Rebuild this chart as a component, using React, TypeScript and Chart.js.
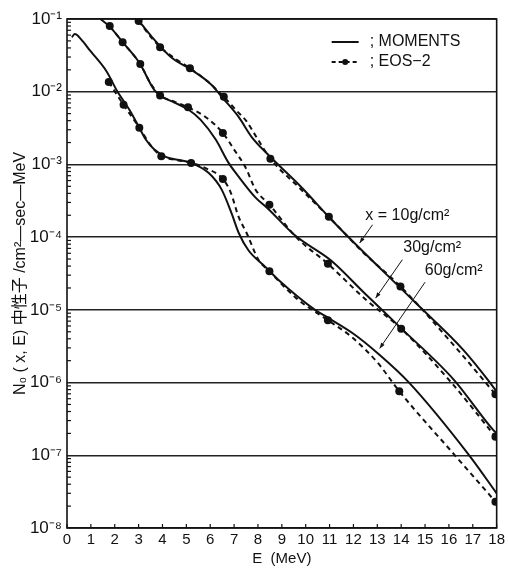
import React, { useEffect, useRef } from "react";
import { Chart, registerables } from "chart.js";

Chart.register(...registerables);

const FONT = "'Liberation Sans', Arial, 'Noto Sans CJK JP', sans-serif";

// ---- axes ----
const E_MIN = 0;
const E_MAX = 18;
const N_MIN = 1e-8;
const N_MAX = 1e-1;
const MINOR_MULTIPLIERS = [2, 3, 4, 5, 6, 7, 8, 9];
const X_TITLE = "E  (MeV)";
const Y_TITLE = "N₀ ( x, E) 中性子 /cm²—sec—MeV";

// ---- legend ----
const LEGEND_MOMENTS = "; MOMENTS";
const LEGEND_EOS = "; EOS−2";

// ---- MOMENTS (solid) ----
const mom10E = [2.95, 3.57, 4.4, 5.11, 6.07, 6.48, 7.19, 7.73, 8.44, 9.81, 11.22, 14.55, 16.61, 17.72, 18];
const mom10N = [1.0e-1, 5.6e-2, 2.9e-2, 2.1e-2, 1.23e-2, 8.5e-3, 4.5e-3, 2.4e-3, 1.35e-3, 4.9e-4, 1.55e-4, 1.3e-5, 2.8e-6, 1.0e-6, 7.5e-7];

const mom30E = [1.4, 1.8, 2.33, 3.03, 3.66, 4.0, 4.5, 5.11, 5.6, 6.23, 6.77, 7.19, 7.9, 8.4, 9.56, 11.05, 12.5, 13.97, 16.2, 17.87, 18];
const mom30N = [1.0e-1, 7.8e-2, 4.8e-2, 2.5e-2, 1.05e-2, 8.5e-3, 7.1e-3, 5.6e-3, 4.1e-3, 2.2e-3, 1.05e-3, 6.8e-4, 3.5e-4, 2.5e-4, 1.05e-4, 4.8e-5, 1.65e-5, 5.7e-6, 1.1e-6, 2.2e-7, 2.0e-7];

const mom60E = [0.2, 0.33, 0.6, 0.96, 1.66, 2.08, 2.62, 3.03, 3.3, 3.66, 4.16, 4.7, 5.2, 5.94, 6.48, 6.9, 7.19, 7.6, 8.31, 8.85, 10.39, 10.93, 12.0, 13.1, 14.33, 16.85, 18];
const mom60N = [5.6e-2, 6.2e-2, 5.2e-2, 3.7e-2, 1.9e-2, 1.05e-2, 5.6e-3, 3.2e-3, 2.2e-3, 1.6e-3, 1.26e-3, 1.15e-3, 1.05e-3, 7.6e-4, 4.5e-4, 2.1e-4, 1.15e-4, 6.6e-5, 3.9e-5, 2.6e-5, 1.0e-5, 7.8e-6, 4.7e-6, 2.4e-6, 1.0e-6, 1.0e-7, 3.0e-8];

// ---- EOS-2 (dashed line + computed points) ----
const eos10LineE = [3.0, 3.4, 3.9, 4.5, 5.15, 5.9, 6.57, 7.1, 7.5, 8.0, 8.52, 9.7, 10.97, 12.4, 13.97, 16.3, 17.95];
const eos10LineN = [9.4e-2, 6.3e-2, 4.1e-2, 2.9e-2, 2.1e-2, 1.38e-2, 8.5e-3, 5.5e-3, 4.0e-3, 2.2e-3, 1.2e-3, 4.9e-4, 1.9e-4, 6.2e-5, 2.1e-5, 3.0e-6, 6.9e-7];
const eos10DotE = [3.0, 3.9, 5.15, 6.57, 8.52, 10.97, 13.97, 17.95];
const eos10DotN = [9.4e-2, 4.1e-2, 2.1e-2, 8.5e-3, 1.2e-3, 1.9e-4, 2.1e-5, 6.9e-7];

const eos30LineE = [1.79, 2.33, 3.07, 3.5, 3.9, 4.5, 5.07, 5.8, 6.53, 7.0, 7.48, 7.9, 8.48, 9.6, 10.93, 12.5, 14.0, 16.1, 17.95];
const eos30LineN = [8.0e-2, 4.8e-2, 2.4e-2, 1.3e-2, 8.9e-3, 7.3e-3, 6.1e-3, 4.5e-3, 2.7e-3, 1.6e-3, 9.1e-4, 4.5e-4, 2.8e-4, 1.0e-4, 4.3e-5, 1.4e-5, 5.5e-6, 1.0e-6, 1.8e-7];
const eos30DotE = [1.79, 2.33, 3.07, 3.9, 5.07, 6.53, 8.48, 10.93, 14.0, 17.95];
const eos30DotN = [8.0e-2, 4.8e-2, 2.4e-2, 8.9e-3, 6.1e-3, 2.7e-3, 2.8e-4, 4.3e-5, 5.5e-6, 1.8e-7];

const eos60LineE = [1.75, 2.37, 3.03, 3.5, 3.95, 4.6, 5.2, 5.8, 6.53, 6.86, 7.19, 7.52, 8.02, 8.48, 9.6, 10.93, 11.9, 13.0, 13.92, 16.25, 17.95];
const eos60LineN = [1.36e-2, 6.6e-3, 3.2e-3, 1.85e-3, 1.3e-3, 1.15e-3, 1.05e-3, 8.9e-4, 6.3e-4, 4.1e-4, 1.9e-4, 1.15e-4, 4.9e-5, 3.4e-5, 1.45e-5, 7.2e-6, 4.3e-6, 1.9e-6, 7.6e-7, 1.0e-7, 2.3e-8];
const eos60DotE = [1.75, 2.37, 3.03, 3.95, 5.2, 6.53, 8.48, 10.93, 13.92, 17.95];
const eos60DotN = [1.36e-2, 6.6e-3, 3.2e-3, 1.3e-3, 1.05e-3, 6.3e-4, 3.4e-5, 7.2e-6, 7.6e-7, 2.3e-8];

// ---- curve labels (data coordinates) ----
const labelTexts = ["x = 10g/cm²", "30g/cm²", "60g/cm²"];
const labelE = [14.26, 15.3, 16.2];
const labelN = [2.0e-4, 7.1e-5, 3.5e-5];
const arrowFromE = [12.8, 14.05, 15.0];
const arrowFromN = [1.48e-4, 4.9e-5, 2.4e-5];
const arrowToE = [12.26, 12.93, 13.1];
const arrowToN = [8.3e-5, 1.45e-5, 2.95e-6];

const pts = (xs: number[], ys: number[]) => xs.map((x, i) => ({ x, y: ys[i] }));

const isDecade = (v: number) => {
  const l = Math.log10(v);
  return Math.abs(l - Math.round(l)) < 1e-6;
};

const SUP: Record<string, string> = {
  "-": "⁻", "0": "⁰", "1": "¹", "2": "²", "3": "³", "4": "⁴",
  "5": "⁵", "6": "⁶", "7": "⁷", "8": "⁸", "9": "⁹",
};
const toSup = (s: string) => s.split("").map((c) => SUP[c] ?? c).join("");

const solid = (data: { x: number; y: number }[]) => ({
  data,
  showLine: true,
  borderColor: "#111",
  borderWidth: 2,
  pointRadius: 0,
  cubicInterpolationMode: "monotone" as const,
});
const dashed = (data: { x: number; y: number }[]) => ({
  data,
  showLine: true,
  borderColor: "#111",
  borderWidth: 2,
  borderDash: [5, 4],
  pointRadius: 0,
  cubicInterpolationMode: "monotone" as const,
});
const dots = (data: { x: number; y: number }[]) => ({
  data,
  showLine: false,
  pointRadius: 4,
  pointBackgroundColor: "#111",
  pointBorderColor: "#111",
  pointBorderWidth: 0,
});

const decorPlugin = {
  id: "decor",
  afterDraw(chart: any) {
    const { ctx, chartArea: ca, scales } = chart;
    const xs = scales.x;
    const ys = scales.y;
    ctx.save();
    ctx.strokeStyle = "#111";
    ctx.fillStyle = "#111";
    // frame
    ctx.lineWidth = 1.6;
    ctx.strokeRect(ca.left, ca.top, ca.right - ca.left, ca.bottom - ca.top);
    // minor y ticks (inside)
    ctx.lineWidth = 1.2;
    const dMin = Math.round(Math.log10(N_MIN));
    const dMax = Math.round(Math.log10(N_MAX));
    for (let d = dMin; d < dMax; d++) {
      for (const m of MINOR_MULTIPLIERS) {
        const y = ys.getPixelForValue(m * Math.pow(10, d));
        ctx.beginPath();
        ctx.moveTo(ca.left, y);
        ctx.lineTo(ca.left + 4, y);
        ctx.stroke();
      }
    }
    // x ticks (inside)
    for (let e = E_MIN; e <= E_MAX; e++) {
      const x = xs.getPixelForValue(e);
      ctx.beginPath();
      ctx.moveTo(x, ca.bottom);
      ctx.lineTo(x, ca.bottom - 4);
      ctx.stroke();
    }
    // legend
    const lx = ca.right - 165;
    const ly1 = ca.top + 23;
    const ly2 = ca.top + 43;
    ctx.lineWidth = 2;
    ctx.beginPath();
    ctx.moveTo(lx, ly1);
    ctx.lineTo(lx + 27, ly1);
    ctx.stroke();
    ctx.setLineDash([4, 3]);
    ctx.beginPath();
    ctx.moveTo(lx, ly2);
    ctx.lineTo(lx + 27, ly2);
    ctx.stroke();
    ctx.setLineDash([]);
    ctx.beginPath();
    ctx.arc(lx + 13.5, ly2, 3, 0, Math.PI * 2);
    ctx.fill();
    ctx.font = `16px ${FONT}`;
    ctx.textBaseline = "middle";
    ctx.textAlign = "left";
    ctx.fillText(LEGEND_MOMENTS, lx + 38, ly1);
    ctx.fillText(LEGEND_EOS, lx + 38, ly2);
    // curve labels with arrows
    ctx.font = `16px ${FONT}`;
    ctx.textAlign = "center";
    ctx.lineWidth = 1;
    for (let i = 0; i < labelTexts.length; i++) {
      ctx.fillText(labelTexts[i], xs.getPixelForValue(labelE[i]), ys.getPixelForValue(labelN[i]));
      const x1 = xs.getPixelForValue(arrowFromE[i]);
      const y1 = ys.getPixelForValue(arrowFromN[i]);
      const x2 = xs.getPixelForValue(arrowToE[i]);
      const y2 = ys.getPixelForValue(arrowToN[i]);
      ctx.beginPath();
      ctx.moveTo(x1, y1);
      ctx.lineTo(x2, y2);
      ctx.stroke();
      const a = Math.atan2(y2 - y1, x2 - x1);
      const h = 6;
      ctx.beginPath();
      ctx.moveTo(x2, y2);
      ctx.lineTo(x2 - h * Math.cos(a - 0.35), y2 - h * Math.sin(a - 0.35));
      ctx.lineTo(x2 - h * Math.cos(a + 0.35), y2 - h * Math.sin(a + 0.35));
      ctx.closePath();
      ctx.fill();
    }
    ctx.restore();
  },
};

export default function App() {
  const ref = useRef<HTMLCanvasElement>(null);
  useEffect(() => {
    if (!ref.current) return;
    const chart = new Chart(ref.current, {
      type: "scatter",
      data: {
        datasets: [
          solid(pts(mom10E, mom10N)),
          solid(pts(mom30E, mom30N)),
          solid(pts(mom60E, mom60N)),
          dashed(pts(eos10LineE, eos10LineN)),
          dashed(pts(eos30LineE, eos30LineN)),
          dashed(pts(eos60LineE, eos60LineN)),
          dots(pts(eos10DotE, eos10DotN)),
          dots(pts(eos30DotE, eos30DotN)),
          dots(pts(eos60DotE, eos60DotN)),
        ] as any,
      },
      options: {
        responsive: false,
        animation: false,
        layout: { padding: { top: 19, right: 8, left: 0, bottom: 0 } },
        plugins: { legend: { display: false }, tooltip: { enabled: false } },
        scales: {
          x: {
            type: "linear",
            min: E_MIN,
            max: E_MAX,
            border: { display: false },
            grid: { display: false, drawTicks: false },
            ticks: {
              stepSize: 1,
              autoSkip: false,
              maxRotation: 0,
              padding: 3,
              color: "#111",
              font: { family: FONT, size: 15 },
            },
            title: {
              display: true,
              text: X_TITLE,
              color: "#111",
              font: { family: FONT, size: 15 },
              padding: { top: 0, bottom: 0 },
            },
            afterFit: (s: any) => {
              s.height = 40;
            },
          },
          y: {
            type: "logarithmic",
            min: N_MIN,
            max: N_MAX,
            border: { display: false },
            grid: {
              drawTicks: false,
              lineWidth: 1.4,
              color: (c: any) => (c.tick && isDecade(c.tick.value) ? "#222" : "rgba(0,0,0,0)"),
            },
            ticks: {
              autoSkip: false,
              padding: 5,
              color: "#111",
              font: { family: FONT, size: 17 },
              callback: (v: any) => {
                const n = Number(v);
                if (!isDecade(n)) return "";
                return "10" + toSup(String(Math.round(Math.log10(n))));
              },
            },
            title: {
              display: true,
              text: Y_TITLE,
              color: "#111",
              font: { family: FONT, size: 16 },
              padding: { top: 11, bottom: 0 },
            },
            afterFit: (s: any) => {
              s.width = 67;
            },
          },
        },
      },
      plugins: [decorPlugin],
    });
    return () => chart.destroy();
  }, []);
  return (
    <div style={{ position: "absolute", left: 0, top: 0, width: 508, height: 568, background: "#fff" }}>
      <canvas ref={ref} width={508} height={568} style={{ display: "block" }} />
    </div>
  );
}
